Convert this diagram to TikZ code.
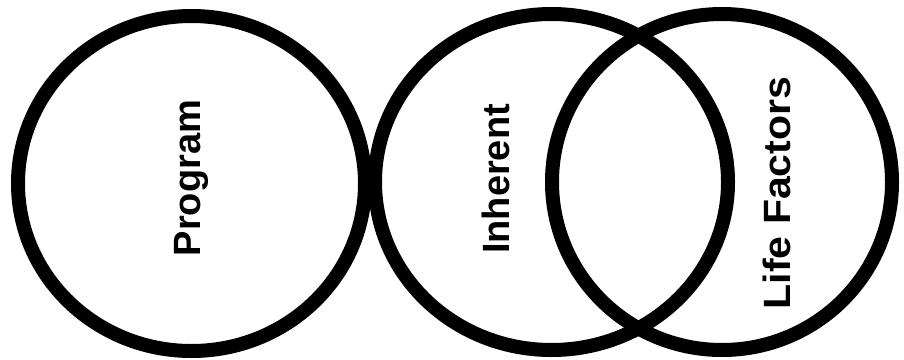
\documentclass[tikz,border=0pt]{standalone}
\usepackage{fontspec}
\setmainfont{Liberation Sans}
\begin{document}
\begin{tikzpicture}[x=1pt,y=-1pt,
  ring/.style={draw=black, line width=14pt},
  lbl/.style={rotate=90, font=\bfseries\fontsize{38}{42}\selectfont, inner sep=0pt}]
\useasboundingbox (0,0) rectangle (904,359);
\draw[ring] (191.5,183.5) ellipse [x radius=173.5, y radius=167.5];
\draw[ring] (551.5,182) ellipse [x radius=176.5, y radius=168];
\draw[ring] (722,182) ellipse [x radius=170, y radius=168];
\node[lbl] (program) at (191,178) {Program};
\node[lbl] (inherent) at (496,179) {Inherent};
\node[lbl] (life) at (777,193) {\scalebox{1.08}[1]{Life Factors}};
\end{tikzpicture}
\end{document}
